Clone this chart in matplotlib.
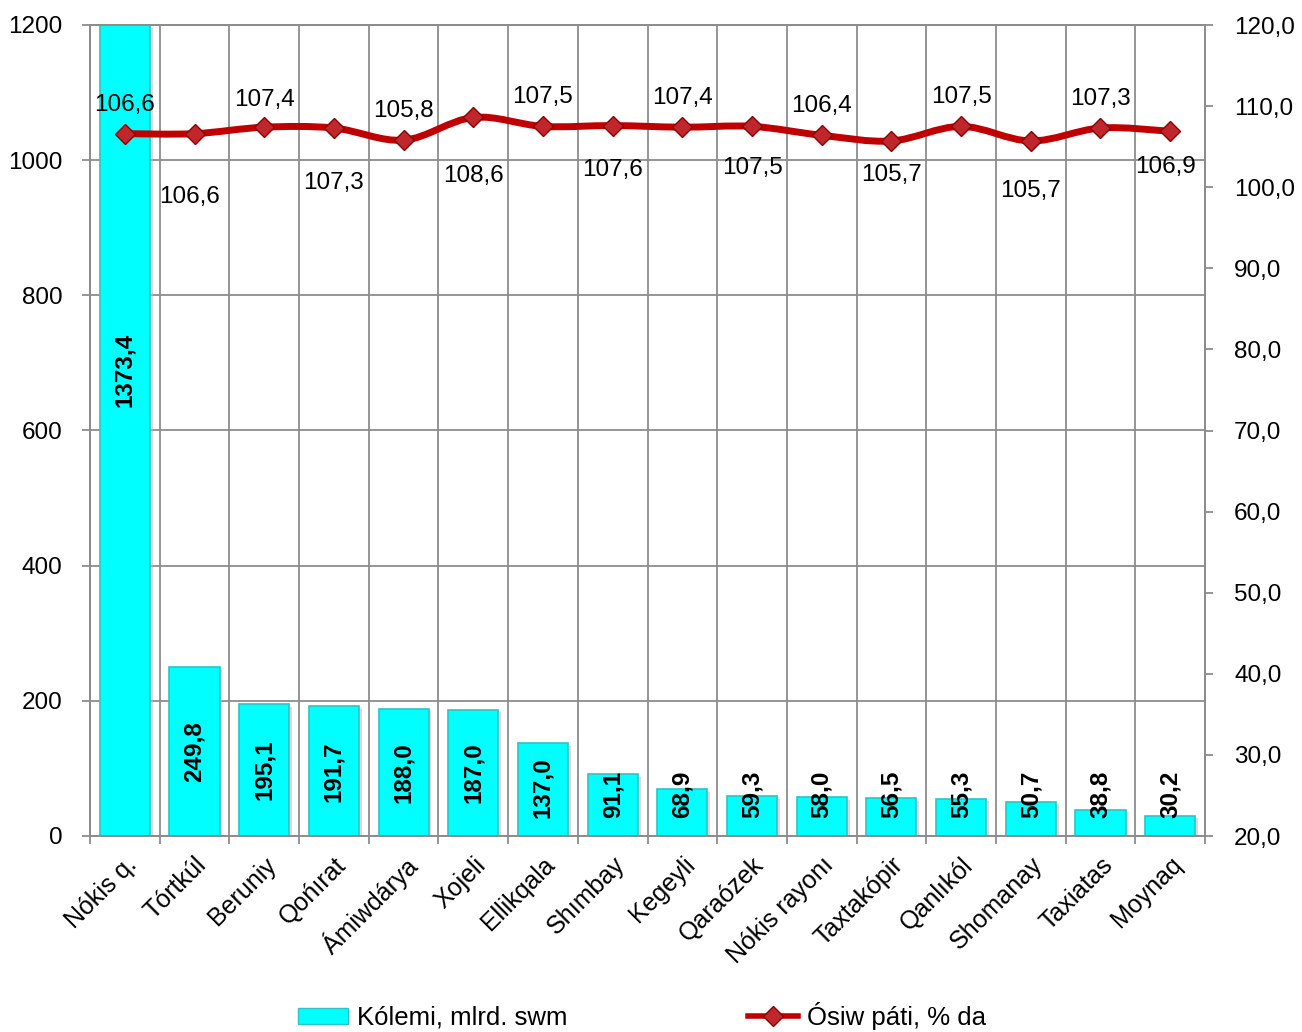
import matplotlib
matplotlib.use("Agg")
import matplotlib.pyplot as plt
from matplotlib.lines import Line2D
from matplotlib.patches import Patch, PathPatch
from matplotlib.path import Path
import numpy as np

plt.rcParams['font.family'] = ['Liberation Sans', 'DejaVu Sans']

categories = ["Nókis q.", "Tórtkúl", "Beruniy", "Qońırat", "Ámiwdárya", "Xojeli",
              "Ellikqala", "Shımbay", "Kegeyli", "Qaraózek", "Nókis rayonı",
              "Taxtakópir", "Qanlıkól", "Shomanay", "Taxiatas", "Moynaq"]
volume = [1373.4, 249.8, 195.1, 191.7, 188.0, 187.0, 137.0, 91.1, 68.9, 59.3,
          58.0, 56.5, 55.3, 50.7, 38.8, 30.2]
growth = [106.6, 106.6, 107.4, 107.3, 105.8, 108.6, 107.5, 107.6, 107.4, 107.5,
          106.4, 105.7, 107.5, 105.7, 107.3, 106.9]
left_ticks = [0, 200, 400, 600, 800, 1000, 1200]
right_ticks = [20, 30, 40, 50, 60, 70, 80, 90, 100, 110, 120]

# label offsets (pixels) for the growth labels: negative = above, positive = below
label_dy = [-29, 63, -27, 55, -29, 59, -29, 44, -29, 42, -29, 34, -29, 50, -29, 36]

def fmt(v):
    return f"{v:.1f}".replace(".", ",")

FS = 17.5
W, H = 1302, 1032
fig = plt.figure(figsize=(W / 100, H / 100), dpi=100)
ax = fig.add_axes([90 / W, 1 - 836 / H, (1205 - 90) / W, (836 - 25) / H])
grid_c = "#8c8c8c"

x = np.arange(len(categories))
ax.set_xlim(-0.5, len(categories) - 0.5)
ax.set_ylim(0, 1200)

for t in left_ticks:
    ax.axhline(t, color=grid_c, lw=1.3, zorder=0)
for b in np.arange(-0.5, len(categories) + 0.5, 1):
    ax.axvline(b, color=grid_c, lw=1.3, zorder=0)

# soft shadow behind bars
ax.bar(x + 0.04, [min(v, 1200) for v in volume], width=0.72, bottom=-4,
       color="#bfbfbf", alpha=0.6, linewidth=0, zorder=1.5)
ax.bar(x, volume, width=0.72, color="#00FFFF", edgecolor="#2EC4C4",
       linewidth=1.2, zorder=2)

px_per_unit = 811 / 1200
for i, v in enumerate(volume):
    s = fmt(v)
    text_len = (len(s) - 0.5) * 0.556 * FS * 1.389 / px_per_unit
    if v > 1200:
        ax.text(i, 690, s, rotation=90, ha="center", va="center",
                fontsize=FS, fontweight="bold", zorder=5)
    elif v / 2 - text_len / 2 < 27:
        ax.text(i, 27, s, rotation=90, ha="center", va="bottom",
                fontsize=FS, fontweight="bold", zorder=5)
    else:
        ax.text(i, v / 2, s, rotation=90, ha="center", va="center",
                fontsize=FS, fontweight="bold", zorder=5)

ax.set_yticks(left_ticks)
ax.set_yticklabels([str(t) for t in left_ticks], fontsize=FS)
ax.set_xticks(np.arange(-0.5, len(categories), 1), minor=False)
ax.set_xticklabels([])
ax.set_xticks(x, minor=True)
ax.set_xticklabels(categories, minor=True, rotation=45, ha="right",
                   rotation_mode="anchor", fontsize=18)
ax.tick_params(axis="x", which="minor", length=0, pad=12)
ax.tick_params(axis="x", which="major", length=6, color=grid_c, width=1.3)
ax.tick_params(axis="y", length=6, color=grid_c, width=1.3, pad=14)
for sp in ax.spines.values():
    sp.set_color(grid_c)
    sp.set_linewidth(1.3)

ax2 = ax.twinx()
ax2.set_ylim(20, 120)
ax2.set_yticks(right_ticks)
ax2.set_yticklabels([fmt(t) for t in right_ticks], fontsize=FS)
ax2.tick_params(axis="y", length=6, color=grid_c, width=1.3, pad=15)
for sp in ax2.spines.values():
    sp.set_color(grid_c)
    sp.set_linewidth(1.3)

# smoothed line (cubic Bezier through the data points, like Excel's smoothing)
P = np.column_stack([x.astype(float), np.array(growth, dtype=float)])
verts = [tuple(P[0])]
codes = [Path.MOVETO]
n = len(P)
for i in range(n - 1):
    p_prev = P[i - 1] if i > 0 else P[i]
    p_next2 = P[i + 2] if i + 2 < n else P[i + 1]
    c1 = P[i] + (P[i + 1] - p_prev) / 6.0
    c2 = P[i + 1] - (p_next2 - P[i]) / 6.0
    verts += [tuple(c1), tuple(c2), tuple(P[i + 1])]
    codes += [Path.CURVE4, Path.CURVE4, Path.CURVE4]
ax2.add_patch(PathPatch(Path(verts, codes), facecolor="none", edgecolor="#C00000",
                        lw=5, zorder=3, capstyle="round", joinstyle="round"))
ax2.plot(x, growth, linestyle="none", marker="D", markersize=10,
         markerfacecolor="#C0272D", markeredgecolor="#8B0000",
         markeredgewidth=1, zorder=4)

for i, g in enumerate(growth):
    dx = -5 if i in (1, len(growth) - 1) else 0
    ax2.annotate(fmt(g), (i, g), xytext=(dx, -label_dy[i]), textcoords="offset pixels",
                 ha="center", va="center", fontsize=FS, color="black", zorder=6)

handles = [Patch(facecolor="#00FFFF", edgecolor="#2EC4C4", label="Kólemi, mlrd. swm"),
           Line2D([0], [0], color="#C00000", lw=4, marker="D", markersize=10,
                  markerfacecolor="#C0272D", markeredgecolor="#8B0000",
                  label="Ósiw páti, % da")]
fig.legend(handles=handles, loc="center", bbox_to_anchor=(0.493, 1 - 1016 / H),
           ncol=2, frameon=False, fontsize=18.5, columnspacing=7.0,
           handlelength=1.95, handleheight=0.6, handletextpad=0.35)

fig.savefig("out.png", dpi=100)
